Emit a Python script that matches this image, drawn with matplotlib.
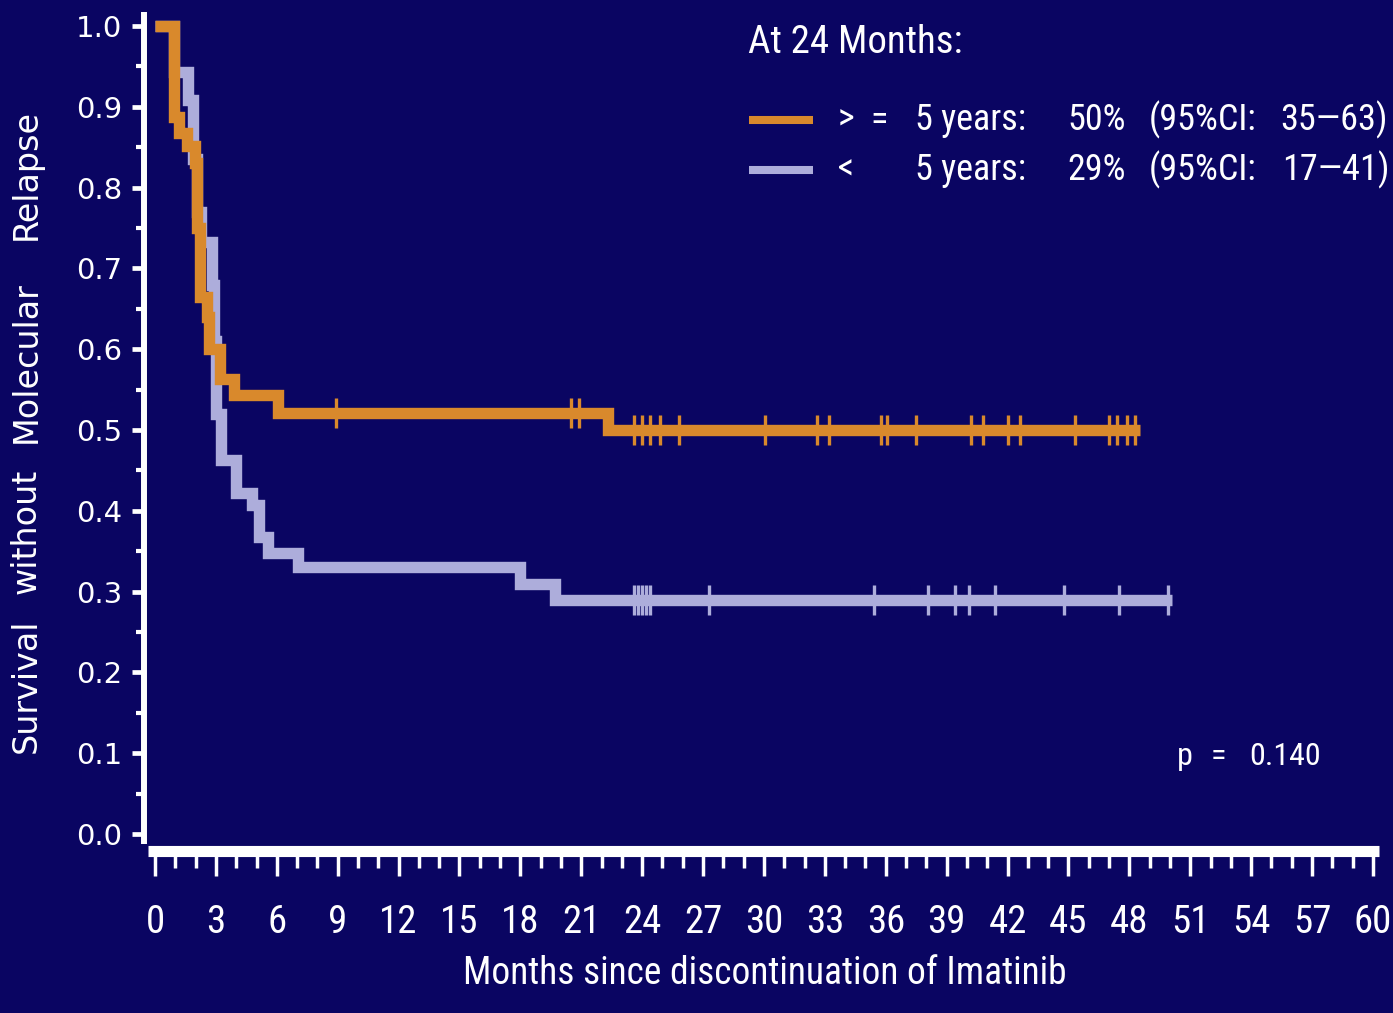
import numpy as np
import matplotlib
matplotlib.use("Agg")
import matplotlib.pyplot as plt
from matplotlib.lines import Line2D
from matplotlib.ticker import MultipleLocator

# Kaplan-Meier steps: time of each step (months) and survival after it
ge5_times = [0, 0.95, 1.2, 1.6, 1.95, 2.05, 2.2, 2.55, 2.65, 3.2, 3.9, 6.05, 22.3]
ge5_surv = [1.0, 0.887, 0.867, 0.851, 0.83, 0.75, 0.665, 0.64, 0.60, 0.563, 0.543, 0.521, 0.50]
ge5_last = 48.5
ge5_censored = [8.9, 20.5, 20.9, 23.6, 24.0, 24.4, 24.9, 25.8, 30.05, 32.6, 33.2,
                35.75, 36.05, 37.5, 40.2, 40.8, 42.0, 42.6, 45.3, 47.0, 47.4, 47.9, 48.3]

lt5_times = [0, 0.95, 1.63, 1.87, 2.05, 2.27, 2.8, 2.9, 3.0, 3.25, 4.0, 4.8, 5.1, 5.55,
             7.05, 18.0, 19.7]
lt5_surv = [1.0, 0.943, 0.908, 0.835, 0.77, 0.733, 0.68, 0.61, 0.52, 0.463, 0.422, 0.407,
            0.368, 0.348, 0.330, 0.309, 0.29]
lt5_last = 50.1
lt5_censored = [23.6, 23.8, 24.0, 24.2, 24.4, 27.3, 35.4, 38.1, 39.4, 40.1, 41.4, 44.8,
                47.5, 49.9]

x_ticks = list(range(0, 61, 3))
x_tick_labels = [str(v) for v in x_ticks]
y_ticks = [round(0.1 * i, 1) for i in range(11)]
y_tick_labels = [f"{v:.1f}" for v in y_ticks]

BG = "#0a0562"
ORANGE = "#d9892c"
LAVENDER = "#adaddb"
NARROW = ["Roboto Condensed", "Archivo Narrow", "Liberation Sans", "DejaVu Sans"]
WIDE = ["DejaVu Sans"]

fig = plt.figure(figsize=(13.93, 10.13), dpi=100, facecolor=BG)
ax = fig.add_axes([0.10690, 0.16873, 0.88748, 0.82953], facecolor=BG)
ax.set_xlim(-0.3, 60.6)
ax.set_ylim(-0.01, 1.03)


def draw_curve(times, surv, last, censored, color, z):
    t = np.append(times, last)
    s = np.append(surv, surv[-1])
    ax.step(t, s, where="post", color=color, lw=8.2, solid_joinstyle="miter",
            solid_capstyle="butt", zorder=z)
    idx = np.searchsorted(times, censored, side="right") - 1
    ax.plot(censored, np.asarray(surv)[idx], ls="none", marker="|", ms=21, mew=2.4,
            color=color, zorder=z)


draw_curve(lt5_times, lt5_surv, lt5_last, lt5_censored, LAVENDER, 3)
draw_curve(ge5_times, ge5_surv, ge5_last, ge5_censored, ORANGE, 4)

# detached white axes
for side in ("top", "right"):
    ax.spines[side].set_visible(False)
ax.spines["left"].set_position(("outward", 3.5))
ax.spines["left"].set_bounds(-0.012, 1.017)
ax.spines["left"].set_linewidth(4.3)
ax.spines["left"].set_color("white")
ax.spines["bottom"].set_position(("outward", 6.4))
ax.spines["bottom"].set_bounds(-0.345, 60.3)
ax.spines["bottom"].set_linewidth(8)
ax.spines["bottom"].set_color("white")
for side in ("left", "bottom"):
    ax.spines[side].set_capstyle("butt")

ax.set_xticks(x_ticks, labels=x_tick_labels, fontfamily=NARROW, fontsize=28, color="white")
ax.set_yticks(y_ticks, labels=y_tick_labels, fontfamily=WIDE, fontsize=21, color="white")
ax.xaxis.set_minor_locator(MultipleLocator(1))
ax.yaxis.set_minor_locator(MultipleLocator(0.05))
ax.tick_params(axis="x", which="major", length=18, width=2.5, color="white", pad=20)
ax.tick_params(axis="x", which="minor", length=12.2, width=2.5, color="white")
ax.tick_params(axis="y", which="major", length=8.9, width=3.4, color="white", pad=7)
ax.tick_params(axis="y", which="minor", length=5.8, width=3.0, color="white")

# axis titles
fig.text(765 / 1393, 1 - 984 / 1013, "Months since discontinuation of Imatinib",
         ha="center", va="baseline", fontsize=27, family=NARROW, color="white")
for word, yc in [("Survival", 686), ("without", 531), ("Molecular", 362), ("Relapse", 174)]:
    fig.text(36 / 1393, 1 - yc / 1013, word, rotation=90, rotation_mode="anchor",
             ha="center", va="baseline", fontsize=24, family=WIDE, color="white")

# legend block
ax.text(29.21, 0.9666, "At 24 Months:", fontsize=28, family=NARROW, color="white",
        va="baseline")
ax.add_line(Line2D([29.26, 32.41], [0.8837, 0.8837], color=ORANGE, lw=5.8,
                   solid_capstyle="butt"))
ax.add_line(Line2D([29.26, 32.41], [0.8212, 0.8212], color=LAVENDER, lw=5.8,
                   solid_capstyle="butt"))
rows = [
    (0.8713, [(33.65, ">"), (35.22, "="), (37.44, "5 years:"), (44.93, "50%"),
              (48.97, "(95%CI:"), (55.42, "35\u201463)")]),
    (0.8094, [(33.65, "<"), (37.44, "5 years:"), (44.93, "29%"),
              (48.97, "(95%CI:"), (55.50, "17\u201441)")]),
]
for yb, parts in rows:
    for xl, txt in parts:
        ax.text(xl, yb, txt, fontsize=26, family=NARROW, color="white", va="baseline",
                clip_on=False)

# log-rank p-value
for xl, txt in [(50.33, "p"), (52.0, "="), (53.9, "0.140")]:
    ax.text(xl, 0.0854, txt, fontsize=23, family=NARROW, color="white", va="baseline")

fig.savefig("out.png", dpi=100, facecolor=BG)
